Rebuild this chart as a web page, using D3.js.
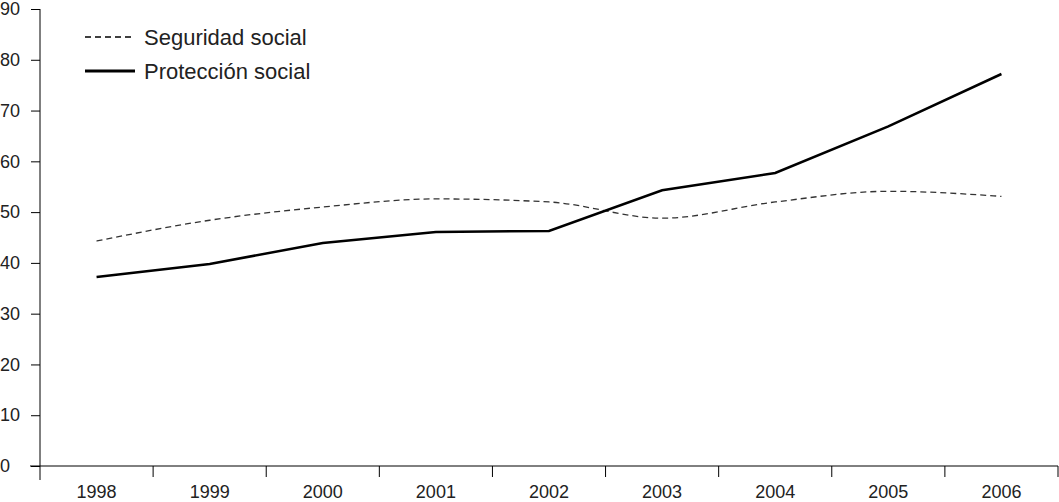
<!DOCTYPE html>
<html>
<head>
<meta charset="utf-8">
<script src="https://cdn.jsdelivr.net/npm/d3@7"></script>
<style>
  body { margin: 0; background: #fff; }
  text { font-family: "Liberation Sans", Arial, sans-serif; fill: #222; }
</style>
</head>
<body>
<div id="chart"></div>
<script>
const years = ['1998', '1999', '2000', '2001', '2002', '2003', '2004', '2005', '2006'];
const seguridad = [44.3, 48.4, 51.0, 52.6, 52.0, 48.8, 52.0, 54.1, 53.1];
const proteccion = [37.2, 39.8, 43.9, 46.1, 46.3, 54.3, 57.7, 66.9, 77.2];
const yTicks = [0, 10, 20, 30, 40, 50, 60, 70, 80, 90];

const W = 1059, H = 502;
const margin = { top: 9, right: 1, bottom: 36, left: 40 };
const width = W - margin.left - margin.right;
const height = H - margin.top - margin.bottom;

const svg = d3.select('#chart').append('svg')
  .attr('width', W).attr('height', H)
  .append('g')
  .attr('transform', `translate(${margin.left},${margin.top})`);

const x = d3.scaleBand().domain(years).range([0, width]);
const y = d3.scaleLinear().domain([0, 90]).range([height, 0]);

// eje Y (etiquetas alineadas a la izquierda)
const yAxis = svg.append('g')
  .call(d3.axisLeft(y).tickValues(yTicks).tickSize(9));
yAxis.select('.domain').attr('stroke', '#000').attr('d', `M0,0V${height + 14}`);
yAxis.selectAll('.tick line').attr('stroke', '#000');
yAxis.selectAll('.tick text')
  .attr('x', -margin.left)
  .attr('text-anchor', 'start')
  .attr('font-family', null)
  .attr('fill', null)
  .style('font-size', '18px');

// eje X con marcas entre categorías
const xAxis = svg.append('g')
  .attr('transform', `translate(0,${height})`);
xAxis.append('line')
  .attr('x1', -10).attr('x2', width).attr('stroke', '#000');
xAxis.selectAll('.sep')
  .data(years.slice(1).concat(['end']))
  .enter().append('line')
  .attr('x1', (d, i) => x.step() * (i + 1))
  .attr('x2', (d, i) => x.step() * (i + 1))
  .attr('y1', 0).attr('y2', 11)
  .attr('stroke', '#000');
xAxis.selectAll('.lbl')
  .data(years)
  .enter().append('text')
  .attr('x', d => x(d) + x.bandwidth() / 2)
  .attr('y', 32)
  .attr('text-anchor', 'middle')
  .style('font-size', '18px')
  .text(d => d);

const cx = (d, i) => x(years[i]) + x.bandwidth() / 2;

// Seguridad social
svg.append('path')
  .datum(seguridad)
  .attr('fill', 'none')
  .attr('stroke', '#333')
  .attr('stroke-width', 1.3)
  .attr('stroke-dasharray', '6,4')
  .attr('d', d3.line().x(cx).y(d => y(d)).curve(d3.curveMonotoneX));

// Protección social
svg.append('path')
  .datum(proteccion)
  .attr('fill', 'none')
  .attr('stroke', '#000')
  .attr('stroke-width', 2.5)
  .attr('d', d3.line().x(cx).y(d => y(d)));

// leyenda
const legend = [
  { name: 'Seguridad social', dash: '6,4', w: 1.5, yy: 28 },
  { name: 'Protección social', dash: null, w: 3, yy: 62 }
];
const lg = svg.selectAll('.leg').data(legend).enter().append('g');
lg.append('line')
  .attr('x1', 45).attr('x2', 95)
  .attr('y1', d => d.yy).attr('y2', d => d.yy)
  .attr('stroke', '#000')
  .attr('stroke-width', d => d.w)
  .attr('stroke-dasharray', d => d.dash);
lg.append('text')
  .attr('x', 104).attr('y', d => d.yy + 8)
  .style('font-size', '22px')
  .text(d => d.name);
</script>
</body>
</html>
